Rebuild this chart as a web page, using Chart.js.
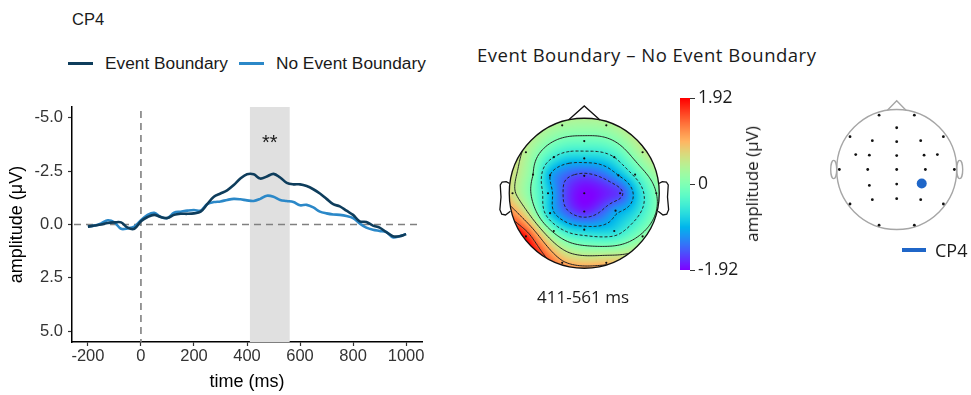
<!DOCTYPE html>
<html>
<head>
<meta charset="utf-8">
<script src="https://cdn.jsdelivr.net/npm/chart.js@4.4.1/dist/chart.umd.min.js"></script>
<style>
  body { margin: 0; background: #fff; width: 971px; height: 395px; position: relative; overflow: hidden; }
  canvas { position: absolute; }
  .txt { position: absolute; white-space: nowrap; color: #1a1a1a; }
  .sans { font-family: "Liberation Sans", Arial, sans-serif; }
  .open { font-family: "Open Sans", "Noto Sans", sans-serif; }
</style>
</head>
<body>
<div class="txt sans" style="left:72px;top:10px;font-size:16.5px;">CP4</div>
<div id="erpLegend" class="txt sans" style="left:68px;top:53px;font-size:17.3px;line-height:20px;display:flex;align-items:center;"></div>
<canvas id="erpChart" width="445" height="395" style="left:0;top:0;width:445px;height:395px"></canvas>

<div class="txt open" style="left:477px;top:44px;font-size:18.5px;letter-spacing:0.5px;line-height:22px;">Event Boundary – No Event Boundary</div>
<canvas id="topoChart" width="230" height="230" style="left:470px;top:85px;width:230px;height:230px"></canvas>
<div class="txt open" style="left:537px;top:287px;font-size:17px;line-height:20px;">411-561 ms</div>
<canvas id="cbarChart" width="80" height="200" style="left:670px;top:85px;width:80px;height:200px"></canvas>
<div class="txt open" style="left:752px;top:184px;font-size:17px;line-height:20px;transform:translate(-50%,-50%) rotate(-90deg);">amplitude (μV)</div>

<canvas id="montageChart" width="151" height="160" style="left:820px;top:90px;width:151px;height:160px"></canvas>
<div style="position:absolute;left:902px;top:248px;width:24px;height:4px;background:#1f66c8"></div>
<div class="txt open" style="left:935px;top:239px;font-size:18px;line-height:22px;">CP4</div>

<script>
// ERP waveform at CP4 (µV, plotted with negative up)
const times = [-200,-175,-150,-125,-100,-75,-50,-25,0,25,50,75,100,125,150,175,200,225,250,275,300,325,350,375,400,425,450,475,500,525,550,575,600,625,650,675,700,725,750,775,800,825,850,875,900,925,950,975,1000];
const eventBoundary = [0.1,0.05,0.0,-0.07,-0.1,-0.1,0.15,0.2,-0.15,-0.35,-0.45,-0.35,-0.3,-0.45,-0.5,-0.5,-0.52,-0.6,-0.95,-1.3,-1.45,-1.6,-1.85,-2.15,-2.35,-2.35,-2.15,-2.25,-2.37,-2.2,-1.95,-1.88,-1.88,-1.8,-1.65,-1.45,-1.2,-0.95,-0.85,-0.65,-0.45,-0.15,-0.12,0.05,0.15,0.35,0.55,0.55,0.45];
const noEventBoundary = [0.1,0.05,-0.05,-0.2,-0.1,0.2,0.18,0.1,-0.2,-0.45,-0.55,-0.35,-0.3,-0.55,-0.6,-0.65,-0.68,-0.65,-0.95,-1.05,-1.08,-1.15,-1.2,-1.18,-1.13,-1.1,-1.2,-1.35,-1.3,-1.15,-1.1,-1.05,-0.9,-0.92,-0.8,-0.6,-0.52,-0.47,-0.45,-0.4,-0.3,-0.05,0.15,0.25,0.3,0.35,0.6,0.55,0.45];
const seriesLabels = ['Event Boundary', 'No Event Boundary'];
const seriesColors = ['#0e3d5c', '#2b88c8'];
const xTicks = [-200, 0, 200, 400, 600, 800, 1000];
const yTicks = [-5, -2.5, 0, 2.5, 5];
const sigWindow = [411, 561];
const sigMark = { x: 486, y: -4.0, text: '**' };

// electrode montage (unit head, y towards nose) and difference topography 411-561 ms
const elecNames = ['Fp1','Fp2','AFz','F7','F3','Fz','F4','F8','FC5','FC3','FCz','FC4','FC6','T7','C3','Cz','C4','T8','CP3','CPz','CP4','P3','Pz','P4','P7','P8','O1','O2'];
const elecX = [-0.294,0.294,0,-0.778,-0.406,0,0.4,0.778,-0.683,-0.456,0,0.456,0.678,-0.956,-0.483,0,0.478,0.961,-0.456,0,0.417,-0.406,0,0.4,-0.778,0.778,-0.294,0.294];
const elecY = [0.906,0.906,0.696,0.547,0.481,0.464,0.481,0.547,0.249,0.238,0.232,0.238,0.249,0,0,0,0,0,-0.265,-0.243,-0.232,-0.503,-0.486,-0.503,-0.575,-0.575,-0.928,-0.928];
const topoValues = [0.3,0.3,-0.15,0.4,-0.5,-0.8,-0.5,0.4,0.0,-1.0,-1.6,-1.0,-0.4,0.6,-0.75,-1.92,-1.6,0.0,-0.8,-1.75,-1.1,-0.1,-0.8,-0.7,1.8,0.1,1.1,0.9];
const colorLimit = 1.92;
const cbarTicks = [-1.92, 0, 1.92];
const contourLevels = [-1.5, -1.0, -0.5, 0, 0.5, 1.0, 1.5];
const selectedChannel = 'CP4';

// legend
const legendEl = document.getElementById('erpLegend');
seriesLabels.forEach((lab, i) => {
  const line = document.createElement('span');
  line.style.cssText = `display:inline-block;width:25px;height:3px;background:${seriesColors[i]};margin:0 12px 0 ${i ? 11 : 0}px`;
  const t = document.createElement('span');
  t.textContent = lab;
  legendEl.appendChild(line);
  legendEl.appendChild(t);
});

// ---------- ERP chart ----------
const erpDecor = {
  id: 'erpDecor',
  beforeDatasetsDraw(chart) {
    const { ctx, chartArea: a, scales: { x, y } } = chart;
    ctx.save();
    const x0 = x.getPixelForValue(sigWindow[0]);
    const x1 = x.getPixelForValue(sigWindow[1]);
    ctx.fillStyle = '#e0e0e0';
    ctx.fillRect(x0, a.top, x1 - x0, a.bottom - a.top);
    ctx.strokeStyle = '#808080';
    ctx.lineWidth = 1.6;
    ctx.setLineDash([7, 5]);
    ctx.beginPath();
    ctx.moveTo(x.getPixelForValue(0), a.top + 4);
    ctx.lineTo(x.getPixelForValue(0), a.bottom);
    ctx.moveTo(a.left + 2, y.getPixelForValue(0));
    ctx.lineTo(a.right, y.getPixelForValue(0));
    ctx.stroke();
    ctx.restore();
  },
  afterDatasetsDraw(chart) {
    const { ctx, scales: { x, y } } = chart;
    ctx.save();
    ctx.fillStyle = '#1a1a1a';
    ctx.font = '20px "Liberation Sans", Arial';
    ctx.textAlign = 'center';
    ctx.textBaseline = 'middle';
    ctx.fillText(sigMark.text, x.getPixelForValue(sigMark.x), y.getPixelForValue(sigMark.y) + 4);
    ctx.restore();
  }
};

const toPoints = vals => times.map((t, i) => ({ x: t, y: vals[i] }));
const tickFont = { family: '"Liberation Sans", Arial, sans-serif', size: 16.5 };
const titleFont = { family: '"Liberation Sans", Arial, sans-serif', size: 18 };

new Chart(document.getElementById('erpChart'), {
  type: 'line',
  data: {
    datasets: [
      { label: seriesLabels[0], data: toPoints(eventBoundary), borderColor: seriesColors[0], borderWidth: 2.6, pointRadius: 0, tension: 0.35 },
      { label: seriesLabels[1], data: toPoints(noEventBoundary), borderColor: seriesColors[1], borderWidth: 2.6, pointRadius: 0, tension: 0.35 }
    ]
  },
  options: {
    responsive: false,
    animation: false,
    layout: { padding: { left: 0, right: 23, top: 107, bottom: 0 } },
    plugins: { legend: { display: false }, tooltip: { enabled: false } },
    scales: {
      x: {
        type: 'linear', min: -260, max: 1060,
        afterBuildTicks: s => { s.ticks = xTicks.map(v => ({ value: v })); },
        afterFit: s => { s.height = 53; },
        ticks: { font: tickFont, color: '#333', padding: 1, callback: v => String(v) },
        grid: { drawOnChartArea: false, drawTicks: true, tickLength: 4, color: '#333', tickWidth: 1.2 },
        border: { color: '#000', width: 1.5 },
        title: { display: true, text: 'time (ms)', font: titleFont, color: '#000', padding: { top: 0, bottom: 2 } }
      },
      y: {
        type: 'linear', min: -5.5, max: 5.5, reverse: true,
        afterBuildTicks: s => { s.ticks = yTicks.map(v => ({ value: v })); },
        afterFit: s => { s.width = 72; },
        ticks: { font: tickFont, color: '#333', padding: 5, callback: v => v.toFixed(1) },
        grid: { drawOnChartArea: false, drawTicks: true, tickLength: 4, color: '#333', tickWidth: 1.2 },
        border: { color: '#000', width: 1.5 },
        title: { display: true, text: 'amplitude (μV)', font: titleFont, color: '#000', padding: { top: 6.5, bottom: 0 } }
      }
    }
  },
  plugins: [erpDecor]
});

// ---------- topography ----------
function rainbow(v) {
  let t = (v + colorLimit) / (2 * colorLimit);
  t = Math.max(0, Math.min(1, t));
  const r = Math.min(1, Math.abs(2 * t - 0.5));
  const g = Math.sin(Math.PI * t);
  const b = Math.cos(Math.PI * t / 2);
  return [Math.round(r * 255), Math.round(g * 255), Math.round(b * 255)];
}

function tpsFit(xs, ys, vs) {
  const n = xs.length, m = n + 3;
  const phi = r => (r > 0 ? r * r * Math.log(r) : 0);
  const A = [], b = [];
  for (let i = 0; i < m; i++) { A.push(new Array(m).fill(0)); b.push(0); }
  for (let i = 0; i < n; i++) {
    for (let j = 0; j < n; j++) A[i][j] = phi(Math.hypot(xs[i] - xs[j], ys[i] - ys[j]));
    A[i][n] = 1; A[i][n + 1] = xs[i]; A[i][n + 2] = ys[i];
    A[n][i] = 1; A[n + 1][i] = xs[i]; A[n + 2][i] = ys[i];
    b[i] = vs[i];
  }
  // gaussian elimination
  for (let c = 0; c < m; c++) {
    let p = c;
    for (let r = c + 1; r < m; r++) if (Math.abs(A[r][c]) > Math.abs(A[p][c])) p = r;
    [A[c], A[p]] = [A[p], A[c]]; [b[c], b[p]] = [b[p], b[c]];
    for (let r = c + 1; r < m; r++) {
      const f = A[r][c] / A[c][c];
      for (let k = c; k < m; k++) A[r][k] -= f * A[c][k];
      b[r] -= f * b[c];
    }
  }
  const w = new Array(m).fill(0);
  for (let r = m - 1; r >= 0; r--) {
    let s = b[r];
    for (let k = r + 1; k < m; k++) s -= A[r][k] * w[k];
    w[r] = s / A[r][r];
  }
  return (x, y) => {
    let s = w[n] + w[n + 1] * x + w[n + 2] * y;
    for (let i = 0; i < n; i++) s += w[i] * phi(Math.hypot(x - xs[i], y - ys[i]));
    return s;
  };
}
const field = tpsFit(elecX, elecY, topoValues);

function contourPaths(grid, n, level) {
  const segs = [];
  for (let j = 0; j < n; j++) for (let i = 0; i < n; i++) {
    const a = grid[j][i], b = grid[j][i + 1], c = grid[j + 1][i + 1], d = grid[j + 1][i];
    if (Number.isNaN(a) || Number.isNaN(b) || Number.isNaN(c) || Number.isNaN(d)) continue;
    const cr = [];
    if ((a < level) !== (b < level)) cr.push({ k: 'h' + i + '_' + j, p: [i + (level - a) / (b - a), j] });
    if ((b < level) !== (c < level)) cr.push({ k: 'v' + (i + 1) + '_' + j, p: [i + 1, j + (level - b) / (c - b)] });
    if ((d < level) !== (c < level)) cr.push({ k: 'h' + i + '_' + (j + 1), p: [i + (level - d) / (c - d), j + 1] });
    if ((a < level) !== (d < level)) cr.push({ k: 'v' + i + '_' + j, p: [i, j + (level - a) / (d - a)] });
    if (cr.length === 2) segs.push([cr[0], cr[1]]);
    else if (cr.length === 4) { segs.push([cr[0], cr[1]]); segs.push([cr[2], cr[3]]); }
  }
  const ends = new Map();
  segs.forEach((s, idx) => s.forEach(e => { if (!ends.has(e.k)) ends.set(e.k, []); ends.get(e.k).push(idx); }));
  const used = new Array(segs.length).fill(false);
  const paths = [];
  for (let s0 = 0; s0 < segs.length; s0++) {
    if (used[s0]) continue;
    used[s0] = true;
    const line = [segs[s0][0], segs[s0][1]];
    for (const fwd of [true, false]) {
      while (true) {
        const end = fwd ? line[line.length - 1] : line[0];
        const next = (ends.get(end.k) || []).find(ix => !used[ix]);
        if (next === undefined) break;
        used[next] = true;
        const s = segs[next];
        const other = s[0].k === end.k ? s[1] : s[0];
        if (fwd) line.push(other); else line.unshift(other);
      }
    }
    paths.push(line.map(e => e.p));
  }
  return paths;
}

const topoDraw = {
  id: 'topoDraw',
  beforeDatasetsDraw(chart) {
    const { ctx, scales: { x, y } } = chart;
    const px0 = Math.floor(x.getPixelForValue(-1)), px1 = Math.ceil(x.getPixelForValue(1));
    const py0 = Math.floor(y.getPixelForValue(1)), py1 = Math.ceil(y.getPixelForValue(-1));
    const w = px1 - px0 + 1, h = py1 - py0 + 1;
    const off = document.createElement('canvas');
    off.width = w; off.height = h;
    const octx = off.getContext('2d');
    const img = octx.createImageData(w, h);
    for (let j = 0; j < h; j++) for (let i = 0; i < w; i++) {
      const dx = x.getValueForPixel(px0 + i + 0.5), dy = y.getValueForPixel(py0 + j + 0.5);
      if (dx * dx + dy * dy > 1.0) continue;
      const [r, g, b] = rainbow(field(dx, dy));
      const o = (j * w + i) * 4;
      img.data[o] = r; img.data[o + 1] = g; img.data[o + 2] = b; img.data[o + 3] = 255;
    }
    octx.putImageData(img, 0, 0);
    ctx.save();
    ctx.drawImage(off, px0, py0);

    // contours
    const cx = x.getPixelForValue(0), cy = y.getPixelForValue(0);
    const rad = x.getPixelForValue(1) - cx;
    ctx.beginPath();
    ctx.arc(cx, cy, rad, 0, Math.PI * 2);
    ctx.clip();
    const n = 90;
    const grid = [];
    for (let j = 0; j <= n; j++) {
      const row = [];
      for (let i = 0; i <= n; i++) {
        const gx = -1 + 2 * i / n, gy = 1 - 2 * j / n;
        row.push(gx * gx + gy * gy > 1.08 ? NaN : field(gx, gy));
      }
      grid.push(row);
    }
    ctx.strokeStyle = '#222';
    ctx.lineWidth = 1;
    contourLevels.forEach(level => {
      ctx.setLineDash(level < 0 ? [3, 2] : []);
      ctx.beginPath();
      contourPaths(grid, n, level).forEach(path => {
        path.forEach(([gi, gj], k) => {
          const X = x.getPixelForValue(-1 + 2 * gi / n), Y = y.getPixelForValue(1 - 2 * gj / n);
          if (k === 0) ctx.moveTo(X, Y); else ctx.lineTo(X, Y);
        });
      });
      ctx.stroke();
    });
    ctx.restore();

    // head outline
    ctx.save();
    ctx.strokeStyle = '#111';
    ctx.lineWidth = 1.3;
    ctx.beginPath();
    ctx.arc(cx, cy, rad, 0, Math.PI * 2);
    ctx.stroke();
    const P = (a, b) => [x.getPixelForValue(a), y.getPixelForValue(b)];
    ctx.beginPath();
    ctx.moveTo(...P(-0.21, 0.978)); ctx.lineTo(...P(0, 1.164)); ctx.lineTo(...P(0.21, 0.978));
    ctx.stroke();
    const ear = [[0.995, 0.13], [1.04, 0.155], [1.095, 0.15], [1.12, 0.11], [1.11, -0.05], [1.125, -0.22], [1.1, -0.28], [1.05, -0.29], [0.985, -0.24]];
    [-1, 1].forEach(sg => {
      ctx.beginPath();
      ear.forEach(([ex, ey], k) => { const p = P(sg * ex, ey); if (k === 0) ctx.moveTo(...p); else ctx.lineTo(...p); });
      ctx.stroke();
    });
    ctx.restore();
  }
};

new Chart(document.getElementById('topoChart'), {
  type: 'scatter',
  data: { datasets: [{ data: elecX.map((v, i) => ({ x: v, y: elecY[i] })), pointRadius: 1.1, pointBackgroundColor: '#111', pointBorderWidth: 0 }] },
  options: {
    responsive: false, animation: false,
    layout: { padding: { left: 13, top: 7, right: 14.5, bottom: 20.5 } },
    plugins: { legend: { display: false }, tooltip: { enabled: false } },
    scales: {
      x: { display: false, min: -1.35, max: 1.35 },
      y: { display: false, min: -1.35, max: 1.35 }
    }
  },
  plugins: [topoDraw]
});

// ---------- colour bar ----------
const cbarDraw = {
  id: 'cbarDraw',
  beforeDatasetsDraw(chart) {
    const { ctx, chartArea: a, scales: { y } } = chart;
    ctx.save();
    for (let py = Math.floor(a.top); py < a.bottom; py++) {
      const [r, g, b] = rainbow(y.getValueForPixel(py + 0.5));
      ctx.fillStyle = `rgb(${r},${g},${b})`;
      ctx.fillRect(a.left, py, a.right - a.left, 1);
    }
    ctx.restore();
  }
};

new Chart(document.getElementById('cbarChart'), {
  type: 'scatter',
  data: { datasets: [{ data: [] }] },
  options: {
    responsive: false, animation: false,
    layout: { padding: { left: 10, top: 13.3, right: 0, bottom: 15 } },
    plugins: { legend: { display: false }, tooltip: { enabled: false } },
    scales: {
      x: { display: false, min: 0, max: 1 },
      y: {
        position: 'right', min: -colorLimit, max: colorLimit,
        afterBuildTicks: s => { s.ticks = cbarTicks.map(v => ({ value: v })); },
        afterFit: s => { s.width = 60; },
        ticks: { font: { family: '"Open Sans", sans-serif', size: 17.5 }, color: '#1a1a1a', padding: 3, callback: v => (v === 0 ? '0' : v.toFixed(2)) },
        grid: { drawOnChartArea: false, drawTicks: true, tickLength: 5, color: '#333', tickWidth: 1 },
        border: { display: false }
      }
    }
  },
  plugins: [cbarDraw]
});

// ---------- electrode montage ----------
const headDraw = {
  id: 'headDraw',
  beforeDatasetsDraw(chart) {
    const { ctx, scales: { x, y } } = chart;
    const P = (a, b) => [x.getPixelForValue(a), y.getPixelForValue(b)];
    const [cx, cy] = P(0, 0);
    const rad = x.getPixelForValue(1) - cx;
    ctx.save();
    ctx.strokeStyle = '#a6a6a6';
    ctx.lineWidth = 1.4;
    ctx.beginPath();
    ctx.arc(cx, cy, rad, 0, Math.PI * 2);
    ctx.stroke();
    ctx.beginPath();
    ctx.moveTo(...P(-0.155, 0.988)); ctx.lineTo(...P(0, 1.144)); ctx.lineTo(...P(0.155, 0.988));
    ctx.stroke();
    [-1, 1].forEach(sg => {
      const [ex, ey] = P(sg * 1.05, 0);
      ctx.beginPath();
      ctx.ellipse(ex, ey, 0.05 * rad, 0.152 * rad, 0, 0, Math.PI * 2);
      ctx.stroke();
    });
    ctx.restore();
  }
};

new Chart(document.getElementById('montageChart'), {
  type: 'scatter',
  data: {
    datasets: [{
      data: elecX.map((v, i) => ({ x: v, y: elecY[i] })),
      pointRadius: c => (elecNames[c.dataIndex] === selectedChannel ? 5 : 1.4),
      pointBackgroundColor: c => (elecNames[c.dataIndex] === selectedChannel ? '#1f66c8' : '#111'),
      pointBorderWidth: 0
    }]
  },
  options: {
    responsive: false, animation: false,
    layout: { padding: { left: 7.7, top: 7.5, right: 5.3, bottom: 8.5 } },
    plugins: { legend: { display: false }, tooltip: { enabled: false } },
    scales: {
      x: { display: false, min: -1.15, max: 1.15 },
      y: { display: false, min: -1.2, max: 1.2 }
    }
  },
  plugins: [headDraw]
});
</script>
</body>
</html>
